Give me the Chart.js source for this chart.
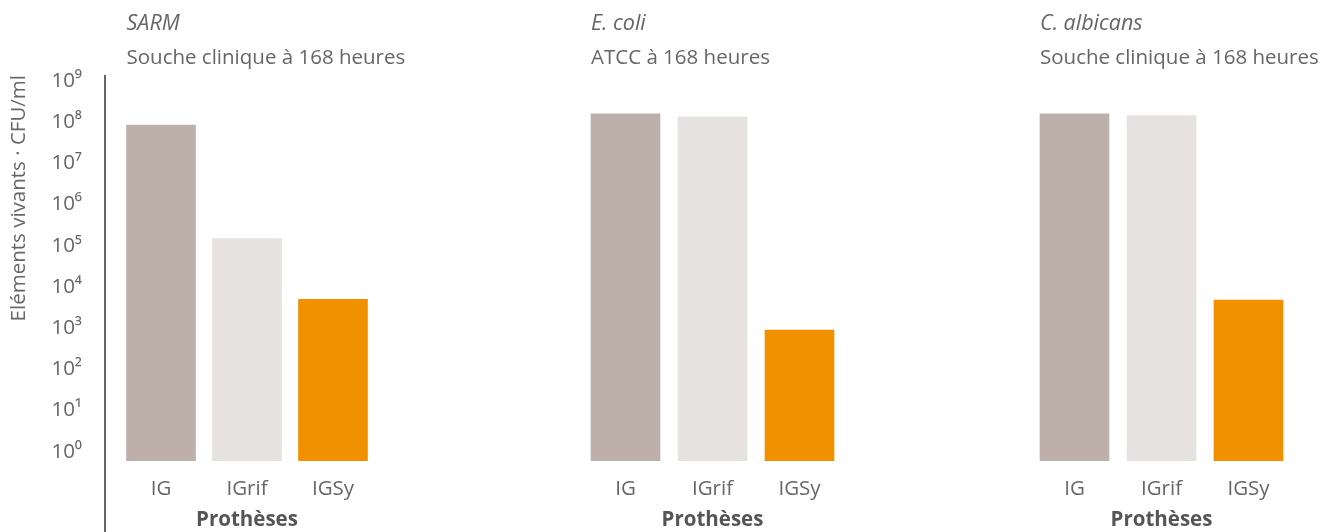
<!DOCTYPE html>
<html lang="fr">
<head>
<meta charset="utf-8">
<title>Éléments vivants par prothèse</title>
<script src="https://cdn.jsdelivr.net/npm/chart.js@4.4.1/dist/chart.umd.min.js"></script>
<style>
  html, body { margin: 0; padding: 0; background: #ffffff; }
  #wrap { position: relative; width: 1338px; height: 532px; overflow: hidden; }
  .panel { position: absolute; top: 0; height: 532px; }
</style>
</head>
<body>
<div id="wrap">
  <div class="panel" style="left:0px;width:430px"><canvas id="pSarm"></canvas></div>
  <div class="panel" style="left:582px;width:300px"><canvas id="pEcoli"></canvas></div>
  <div class="panel" style="left:1031px;width:307px"><canvas id="pAlbicans"></canvas></div>
</div>
<script>
// Prosthesis types on the x axis
const categories = ['IG', 'IGrif', 'IGSy'];

// Viable counts (CFU/ml) after 168 hours
const sarmValues = [8.5e7, 1.5e5, 5.0e3];
const ecoliValues = [1.6e8, 1.35e8, 9.0e2];
const albicansValues = [1.6e8, 1.45e8, 4.8e3];

// Panel headings
const organisms = ['SARM', 'E. coli', 'C. albicans'];
const strains = ['Souche clinique à 168 heures', 'ATCC à 168 heures', 'Souche clinique à 168 heures'];

// Log axis ticks
const tickExponents = [0, 1, 2, 3, 4, 5, 6, 7, 8, 9];
const tickLabels = ['10⁰', '10¹', '10²', '10³', '10⁴', '10⁵', '10⁶', '10⁷', '10⁸', '10⁹'];

const barColors = ['#bdb0ab', '#e7e2e2', '#f29100'];
const textColor = '#666666';
const FONT = '"Open Sans", Roboto, sans-serif';
const SIZE = 20.5;

// Heading above each panel, left-aligned with the first bar
const headingPlugin = {
  id: 'panelHeading',
  afterDraw(chart, args, opts) {
    const bar = chart.getDatasetMeta(0).data[0];
    if (!bar) return;
    const x = bar.x - bar.width / 2;
    const ctx = chart.ctx;
    ctx.save();
    ctx.fillStyle = textColor;
    ctx.textAlign = 'left';
    ctx.textBaseline = 'alphabetic';
    ctx.font = 'italic 21.5px ' + FONT;
    ctx.fillText(opts.organism, x, 30);
    ctx.font = SIZE + 'px ' + FONT;
    ctx.fillText(opts.strain, x, 64);
    ctx.restore();
  }
};

// Vertical axis rule running down to the bottom edge
const axisRulePlugin = {
  id: 'axisRule',
  afterDraw(chart, args, opts) {
    if (!opts.show) return;
    const ctx = chart.ctx;
    const x = chart.chartArea.left - 13;
    ctx.save();
    ctx.strokeStyle = '#666666';
    ctx.lineWidth = 2;
    ctx.beginPath();
    ctx.moveTo(x, chart.chartArea.top);
    ctx.lineTo(x, chart.height);
    ctx.stroke();
    ctx.restore();
  }
};

function buildPanel(id, values, idx, showY, rightPad) {
  return new Chart(document.getElementById(id), {
    type: 'bar',
    data: {
      labels: categories,
      datasets: [{
        data: values,
        backgroundColor: barColors,
        barThickness: 69,
        borderWidth: 0
      }]
    },
    plugins: [headingPlugin, axisRulePlugin],
    options: {
      responsive: true,
      maintainAspectRatio: false,
      animation: false,
      layout: { padding: { top: 75, left: 0, right: rightPad, bottom: 0 } },
      plugins: {
        legend: { display: false },
        tooltip: { enabled: false },
        title: { display: false },
        panelHeading: { organism: organisms[idx], strain: strains[idx] },
        axisRule: { show: showY }
      },
      scales: {
        x: {
          type: 'category',
          offset: true,
          grid: { display: false, drawTicks: false },
          border: { display: false },
          ticks: {
            color: textColor,
            font: { family: FONT, size: SIZE },
            padding: 16
          },
          title: {
            display: true,
            text: 'Prothèses',
            color: '#555555',
            font: { family: FONT, size: SIZE, weight: 'bold', lineHeight: 1.2 },
            padding: { top: 0, bottom: 0 }
          },
          afterFit(scale) { scale.height = 71; }
        },
        y: {
          type: 'logarithmic',
          display: showY,
          min: 0.605,
          max: 1.4e9,
          grid: { display: false, drawTicks: false },
          border: { display: false },
          afterBuildTicks(scale) {
            scale.ticks = tickExponents.map(e => ({ value: Math.pow(10, e) }));
          },
          ticks: {
            color: textColor,
            font: { family: FONT, size: SIZE },
            padding: 36,
            callback(value) {
              const e = Math.round(Math.log10(value));
              const k = tickExponents.indexOf(e);
              return k >= 0 ? tickLabels[k] : '';
            }
          },
          title: {
            display: true,
            text: 'Eléments vivants · CFU/ml',
            align: 'end',
            color: textColor,
            font: { family: FONT, size: SIZE, lineHeight: 1.2 },
            padding: { top: 6.7, bottom: 0 }
          },
          afterFit(scale) { if (showY) scale.width = 118; }
        }
      }
    }
  });
}

buildPanel('pSarm', sarmValues, 0, true, 54);
buildPanel('pEcoli', ecoliValues, 1, false, 39);
buildPanel('pAlbicans', albicansValues, 2, false, 46);
</script>
</body>
</html>
